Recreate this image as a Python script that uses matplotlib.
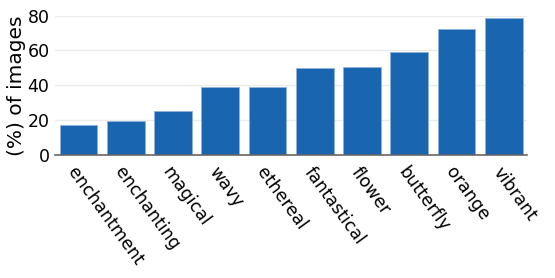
import matplotlib.pyplot as plt

words = ["enchantment", "enchanting", "magical", "wavy", "ethereal",
         "fantastical", "flower", "butterfly", "orange", "vibrant"]
pct = [17.3, 19.3, 25.2, 39.3, 39.3, 49.7, 50.8, 58.9, 72.1, 78.5]

fig = plt.figure(figsize=(5.55, 2.78), dpi=100)
ax = fig.add_axes([0.099, 0.442, 0.851, 0.502])

ax.bar(range(len(words)), pct, width=0.8, color="#1a65b0",
       edgecolor="#8fb3da", linewidth=0.6, zorder=2)
ax.set_xlim(-0.5, len(words) - 0.5)
ax.set_ylim(0, 80)
ax.set_yticks([0, 20, 40, 60, 80])
ax.yaxis.grid(True, color="#ebebeb", linewidth=1, zorder=0)

ax.set_xticks(range(len(words)))
ax.set_xticklabels(words, rotation=-54, ha="left", va="top",
                   rotation_mode="anchor", fontsize=12.5)
ax.tick_params(axis="y", length=0, labelsize=12.5, pad=4)
ax.tick_params(axis="x", length=0, pad=6)
ax.set_ylabel("(%) of images", fontsize=14.5, labelpad=1)

for s in ["top", "right", "left"]:
    ax.spines[s].set_visible(False)
ax.spines["bottom"].set_color("#666666")
ax.spines["bottom"].set_linewidth(1.2)

fig.savefig("out.png", dpi=100)
